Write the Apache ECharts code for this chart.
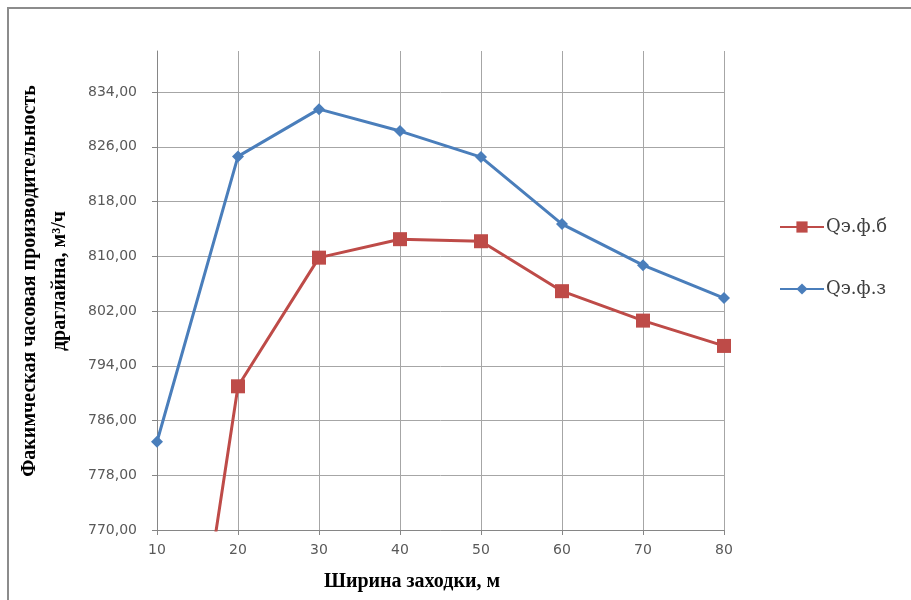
<!DOCTYPE html>
<html>
<head>
<meta charset="utf-8">
<script src="https://cdn.jsdelivr.net/npm/echarts@6/dist/echarts.min.js"></script>
<style>
html,body{margin:0;padding:0;background:#fff;}
#chart{width:911px;height:600px;}
</style>
</head>
<body>
<div id="chart"></div>
<script>
// Data
const widths = [10, 20, 30, 40, 50, 60, 70, 80];
const qEfB = [713.0, 791.0, 809.8, 812.5, 812.2, 804.9, 800.6, 796.9];
const qEfZ = [782.9, 824.6, 831.5, 828.3, 824.5, 814.7, 808.7, 803.9];
const yTicks = [770, 778, 786, 794, 802, 810, 818, 826, 834];
const seriesNames = ['Qэ.ф.б', 'Qэ.ф.з'];
const xTitle = 'Ширина заходки, м';
const yTitle = 'Факимческая часовая производительность\nдраглайна, м³/ч';

const chart = echarts.init(document.getElementById('chart'));
const pairs = (xs, ys) => xs.map((x, i) => [x, ys[i]]);
const gridColors = yTicks.map(() => '#a6a6a6').concat(['rgba(0,0,0,0)']);

chart.setOption({
  animation: false,
  backgroundColor: '#fff',
  grid: { left: 157, right: 187, top: 51, bottom: 70, containLabel: false },
  graphic: [
    { type: 'polyline', shape: { points: [[8, 700], [8, 8], [1000, 8]] },
      style: { stroke: '#8c8c8c', lineWidth: 2, fill: null } },
    { type: 'text', x: 45, y: 281, rotation: Math.PI / 2,
      style: { text: yTitle, font: 'bold 20px "Liberation Serif"', fill: '#000',
               textAlign: 'center', textVerticalAlign: 'middle', lineHeight: 30 } },
    { type: 'text', x: 412, y: 582,
      style: { text: xTitle, font: 'bold 20px "Liberation Serif"', fill: '#000',
               textAlign: 'center', textVerticalAlign: 'middle' } }
  ],
  legend: {
    orient: 'vertical', left: 774, top: 213, itemGap: 44,
    itemWidth: 44, itemHeight: 14,
    textStyle: { fontFamily: '"DejaVu Serif"', fontSize: 18, color: '#404040', padding: [0,0,0,-3] },
    data: seriesNames
  },
  xAxis: {
    type: 'value', min: 10, max: 80, interval: 10,
    axisLine: { lineStyle: { color: '#868686', width: 1 } },
    axisTick: { show: true, length: 5, inside: false, lineStyle: { color: '#868686' } },
    axisLabel: { margin: 13, fontFamily: '"DejaVu Sans"', fontSize: 14, color: '#595959' },
    splitLine: { show: true, lineStyle: { color: '#a6a6a6', width: 1 } }
  },
  yAxis: {
    type: 'value', min: 770, max: 840, interval: 8,
    axisLine: { show: true, lineStyle: { color: '#868686', width: 1 } },
    axisTick: { show: true, length: 5, customValues: yTicks, lineStyle: { color: '#868686' } },
    axisLabel: {
      margin: 20, fontFamily: '"DejaVu Sans"', fontSize: 14, color: '#595959',
      customValues: yTicks,
      formatter: v => (v > 834.5 ? '' : v.toFixed(2).replace('.', ','))
    },
    splitLine: { show: true, lineStyle: { color: gridColors, width: 1 } }
  },
  series: [
    {
      name: seriesNames[0], type: 'line', data: pairs(widths, qEfB),
      symbol: 'rect', symbolSize: 14, clip: true,
      lineStyle: { color: '#be4b48', width: 3 },
      itemStyle: { color: '#be4b48' }
    },
    {
      name: seriesNames[1], type: 'line', data: pairs(widths, qEfZ),
      symbol: 'diamond', symbolSize: 12, clip: true,
      lineStyle: { color: '#4a7ebb', width: 3 },
      itemStyle: { color: '#4a7ebb' }
    }
  ]
});
</script>
</body>
</html>
